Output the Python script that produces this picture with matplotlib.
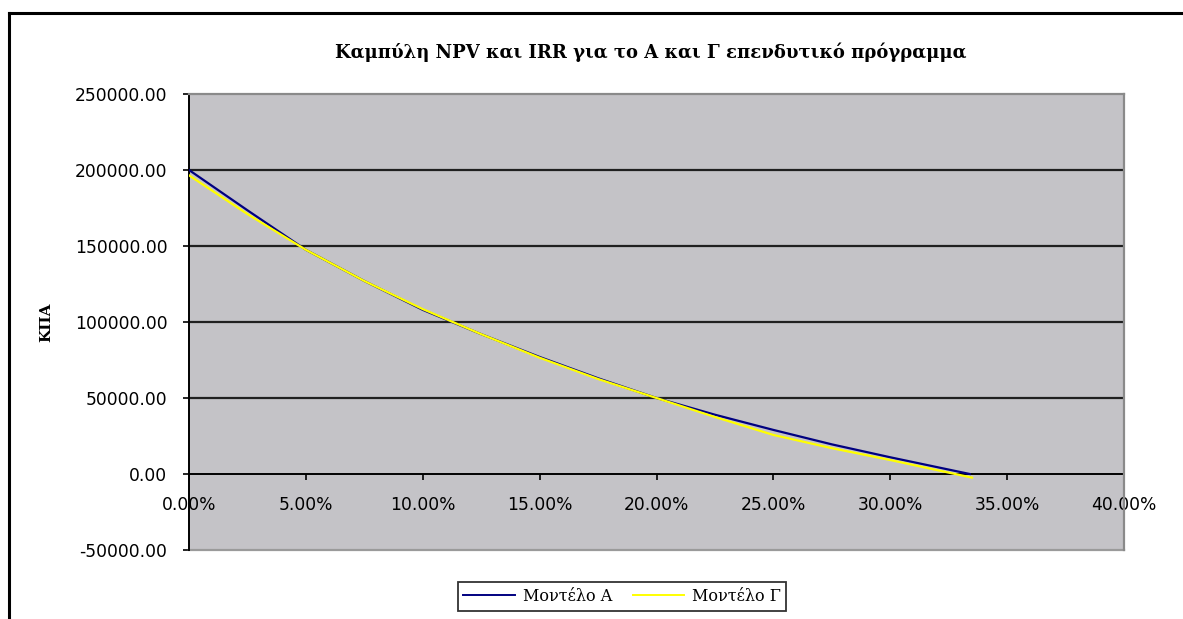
import matplotlib
matplotlib.use("Agg")
import matplotlib.pyplot as plt
from matplotlib.lines import Line2D
from matplotlib.ticker import FuncFormatter, MultipleLocator

# discount rate (%) and NPV for each investment model
rate_a = [0, 2.5, 5, 7.5, 10, 12.5, 15, 17.5, 20, 22.5, 25, 27.5, 30, 33.4]
npv_a = [200000, 173500, 147500, 127000, 108000, 92000, 77000, 63000, 50000,
         39000, 29000, 19500, 11000, 0]
rate_g = [0, 2.5, 5, 7.5, 10, 12.5, 15, 17.5, 20, 22.5, 25, 27.5, 30, 33.5]
npv_g = [196500, 171000, 147500, 127000, 108500, 92000, 76500, 62500, 50000,
         37500, 25700, 17000, 9200, -2400]

title = "Καμπύλη NPV και IRR για το Α και Γ επενδυτικό πρόγραμμα"
ylabel = "ΚΠΑ"
labels = ["Μοντέλο Α", "Μοντέλο Γ"]

W, H = 1183, 619
fig = plt.figure(figsize=(W / 100, H / 100), dpi=100)
fig.patch.set_facecolor("white")

ax = fig.add_axes([189 / W, 1 - 550 / H, (1124 - 189) / W, (550 - 94) / H])
ax.set_facecolor("#c4c3c7")

ax.plot(rate_a, npv_a, color="#000080", lw=1.6, label=labels[0], zorder=3)
ax.plot(rate_g, npv_g, color="#ffff00", lw=1.6, label=labels[1], zorder=4)

ax.set_xlim(0, 40)
ax.set_ylim(-50000, 250000)
ax.xaxis.set_major_locator(MultipleLocator(5))
ax.yaxis.set_major_locator(MultipleLocator(50000))
ax.xaxis.set_major_formatter(FuncFormatter(lambda v, p: f"{v:.2f}%"))
ax.yaxis.set_major_formatter(FuncFormatter(lambda v, p: f"{v:.2f}"))

for y in range(50000, 250000, 50000):
    ax.axhline(y, color="#202020", lw=1.6, zorder=1)

ax.spines["bottom"].set_position(("data", 0))
ax.spines["bottom"].set_linewidth(1.4)
ax.spines["bottom"].set_zorder(2)
ax.spines["left"].set_linewidth(1.4)
ax.spines["left"].set_color("black")
for s in ("top", "right"):
    ax.spines[s].set_color("#8a8a8a")
    ax.spines[s].set_linewidth(1.6)

# the grey plot-area edge at the bottom
ax.plot([0, 40], [-50000, -50000], color="#9a9a9a", lw=1.6, clip_on=False, zorder=2)

tick_font = dict(family="DejaVu Sans", size=12.3)
ax.tick_params(axis="y", direction="out", length=4.5, width=1.2, pad=11)
ax.tick_params(axis="x", direction="out", length=4, width=1.2, pad=12)
for lab in ax.get_xticklabels() + ax.get_yticklabels():
    lab.set_fontfamily(tick_font["family"])
    lab.set_fontsize(tick_font["size"])

fig.text(651 / W, 1 - 52 / H, title, ha="center", va="center",
         family="DejaVu Serif", weight="bold", fontsize=13)
fig.text(46 / W, 1 - 322 / H, ylabel, ha="center", va="center", rotation=90,
         family="DejaVu Serif", weight="bold", fontsize=11)

leg = ax.legend(loc="center", bbox_to_anchor=(622 / W, 1 - 596.5 / H),
                bbox_transform=fig.transFigure, ncol=2, frameon=True,
                fancybox=False, shadow=False, handlelength=3.2,
                columnspacing=1.3, handletextpad=0.5, borderpad=0.35,
                prop=dict(family="DejaVu Serif", size=11.5))
leg.get_frame().set_edgecolor("black")
leg.get_frame().set_linewidth(1.3)
for h in leg.get_lines():
    h.set_linewidth(1.4)

# chart frame: only its left and top edges fall inside the image
fig.add_artist(Line2D([8.5 / W, 8.5 / W], [0, 1 - 12.5 / H], transform=fig.transFigure,
                      color="black", lw=2.2))
fig.add_artist(Line2D([8.5 / W, 1], [1 - 12.5 / H, 1 - 12.5 / H], transform=fig.transFigure,
                      color="black", lw=2.2))

fig.savefig("out.png", dpi=100)
